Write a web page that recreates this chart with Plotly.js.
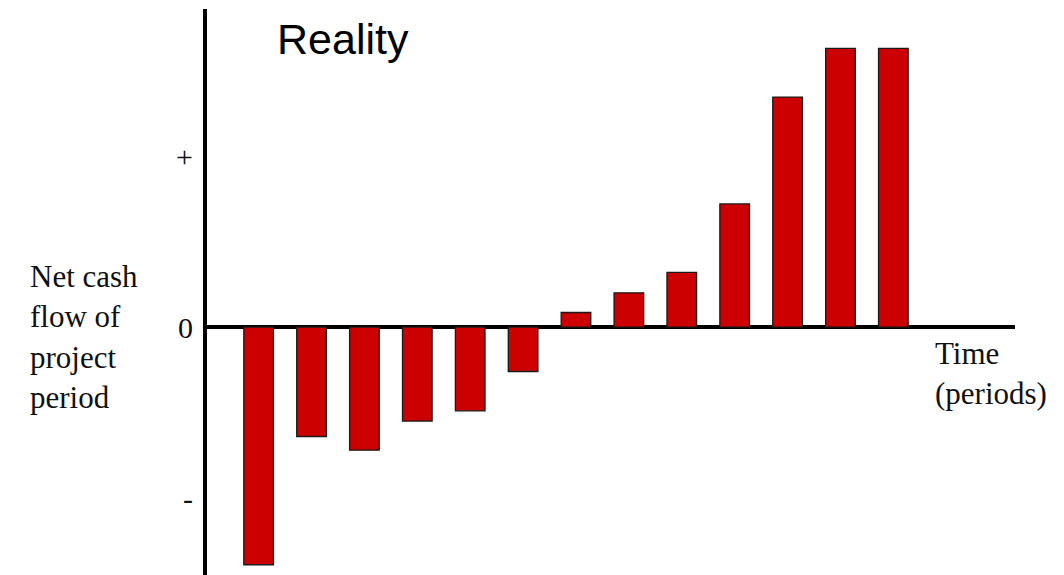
<!DOCTYPE html>
<html>
<head>
<meta charset="utf-8">
<script src="https://cdn.plot.ly/plotly-3.0.1.min.js"></script>
<style>
  html, body { margin: 0; padding: 0; background: #fff; }
  #chart { width: 1064px; height: 575px; }
</style>
</head>
<body>
<div id="chart"></div>
<script>
// Net cash flow per period (relative units: "+" mark = 1, "-" mark = -1)
const periods = [1, 2, 3, 4, 5, 6, 7, 8, 9, 10, 11, 12, 13];
const netCashFlow = [-1.39, -0.64, -0.72, -0.55, -0.49, -0.26, 0.085, 0.20, 0.32, 0.72, 1.345, 1.63, 1.63];
const tickValues = [-1, 0, 1];
const tickLabels = ['-', '0', '+'];

const serif = '"Liberation Serif", "Times New Roman", serif';

const trace = {
  type: 'bar',
  x: periods,
  y: netCashFlow,
  marker: {
    color: '#CC0000',
    line: { color: '#1a1a1a', width: 1.3 }
  },
  hoverinfo: 'skip'
};

const layout = {
  width: 1064,
  height: 575,
  margin: { l: 207, r: 49, t: 9, b: 0, pad: 0 },
  paper_bgcolor: '#ffffff',
  plot_bgcolor: '#ffffff',
  showlegend: false,
  bargap: 0.44,
  xaxis: {
    range: [0.024, 15.30],
    showgrid: false,
    zeroline: false,
    showline: false,
    showticklabels: false,
    ticks: ''
  },
  yaxis: {
    range: [-1.45, 1.86],
    showgrid: false,
    showline: true,
    linecolor: '#000',
    linewidth: 4,
    zeroline: true,
    zerolinecolor: '#000',
    zerolinewidth: 4,
    ticks: '',
    tickvals: tickValues,
    ticktext: tickLabels,
    tickfont: { family: serif, size: 30, color: '#111' },
    ticklabelstandoff: 4
  },
  annotations: [
    {
      text: 'Reality',
      xref: 'paper', yref: 'paper',
      x: 0.084, y: 0.993,
      xanchor: 'left', yanchor: 'top',
      showarrow: false,
      font: { family: '"Liberation Sans", Arial, sans-serif', size: 43, color: '#000' }
    },
    {
      text: 'Net cash<br>flow of<br>project<br>period',
      xref: 'paper', yref: 'y',
      x: -0.2215, y: -0.06,
      xanchor: 'left', yanchor: 'middle',
      align: 'left',
      showarrow: false,
      font: { family: serif, size: 31, color: '#111' }
    },
    {
      text: 'Time<br>(periods)',
      xref: 'paper', yref: 'y',
      x: 0.898, y: -0.27,
      xanchor: 'left', yanchor: 'middle',
      align: 'left',
      showarrow: false,
      font: { family: serif, size: 31, color: '#111' }
    }
  ]
};

Plotly.newPlot('chart', [trace], layout, { displayModeBar: false, staticPlot: true });
</script>
</body>
</html>
